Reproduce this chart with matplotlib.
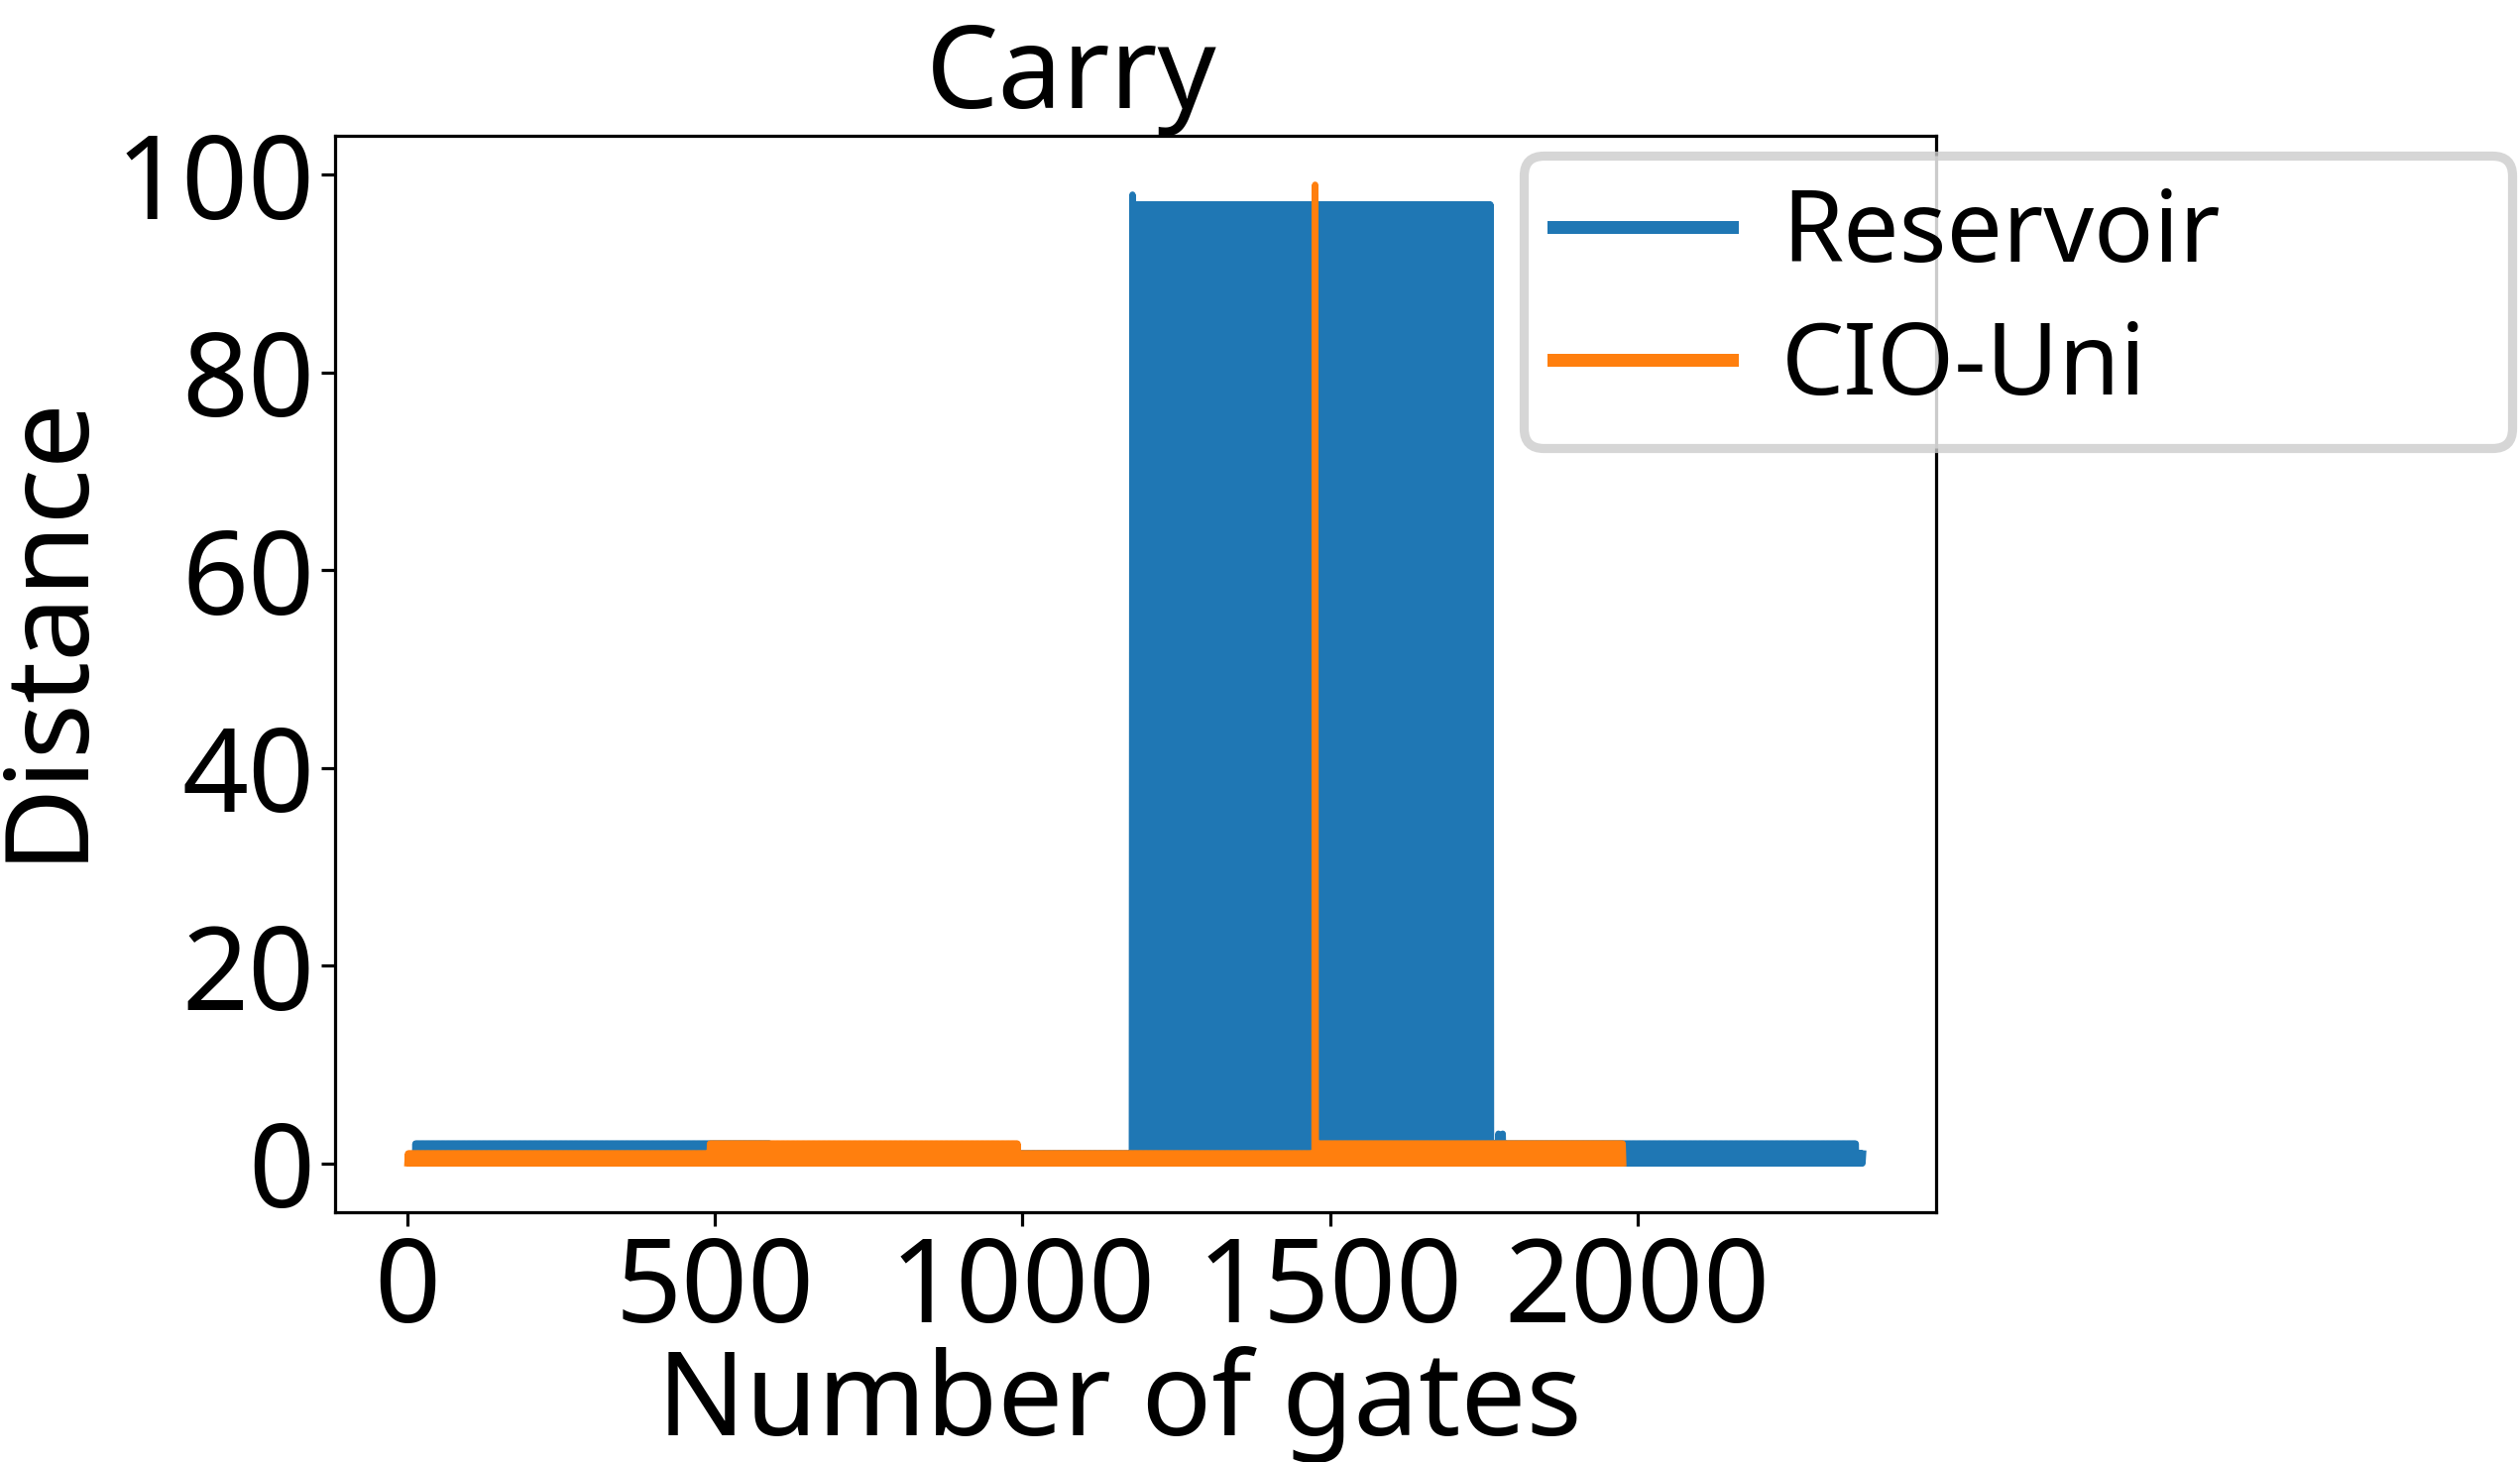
import matplotlib
matplotlib.use("Agg")
import matplotlib.pyplot as plt
import numpy as np

plt.rcParams['font.family'] = ['Noto Sans', 'DejaVu Sans']

# each series is a run of segments: (first gate, last gate, low, high)
# inside a segment the distance flips between low and high from gate to gate
reservoir_segments = [
    (12, 590, 0, 2),
    (591, 1178, 0, 1),
    (1179, 1179, 98, 98),
    (1180, 1761, 1, 97),
    (1762, 1773, 0, 2),
    (1774, 1774, 3, 3),
    (1775, 1780, 0, 2),
    (1781, 1781, 3, 3),
    (1782, 2355, 0, 2),
    (2356, 2367, 0, 1),
]
cio_uni_segments = [
    (0, 490, 0, 1),
    (491, 992, 0, 2),
    (993, 1475, 0, 1),
    (1476, 1476, 99, 99),
    (1477, 1977, 0, 2),
]
labels = ['Reservoir', 'CIO-Uni']
x_ticks = [0, 500, 1000, 1500, 2000]
y_ticks = [0, 20, 40, 60, 80, 100]


def expand(segments):
    xs, ys = [], []
    for first, last, low, high in segments:
        gates = np.arange(first, last + 1)
        vals = np.where((gates - first) % 2 == 0, low, high)
        xs.append(gates)
        ys.append(vals)
    return np.concatenate(xs), np.concatenate(ys)


def main():
    fig = plt.figure(figsize=(2542 / 288, 1475 / 288), dpi=288)
    ax = fig.add_axes([0.1328, 0.1708, 0.6354, 0.7363])

    for segs, label in zip([reservoir_segments, cio_uni_segments], labels):
        x, y = expand(segs)
        ax.plot(x, y, linewidth=1.6, label=label)

    ax.set_xticks(x_ticks)
    ax.set_yticks(y_ticks)
    ax.tick_params(labelsize=29.3)
    ax.tick_params(axis='x', pad=2)
    ax.tick_params(axis='y', pad=1.5)
    ax.set_xlabel('Number of gates', fontsize=29.3, labelpad=-1, x=0.49)
    ax.set_ylabel('Distance', fontsize=29.3, labelpad=2.5, y=0.545)
    ax.set_title('Carry', fontsize=29, pad=2, x=0.46)

    leg = ax.legend(fontsize=25, loc='upper left',
                    bbox_to_anchor=(0.6046, 0.7011, 0.3922, 0.1925),
                    bbox_transform=fig.transFigure, mode='expand',
                    borderaxespad=0, handletextpad=0.5, handlelength=1.8,
                    borderpad=0.3, labelspacing=0.33)
    leg.get_frame().set_linewidth(2.3)
    for line in leg.get_lines():
        line.set_linewidth(3.25)

    fig.savefig('out.png', dpi=288)


if __name__ == "__main__":
    main()
